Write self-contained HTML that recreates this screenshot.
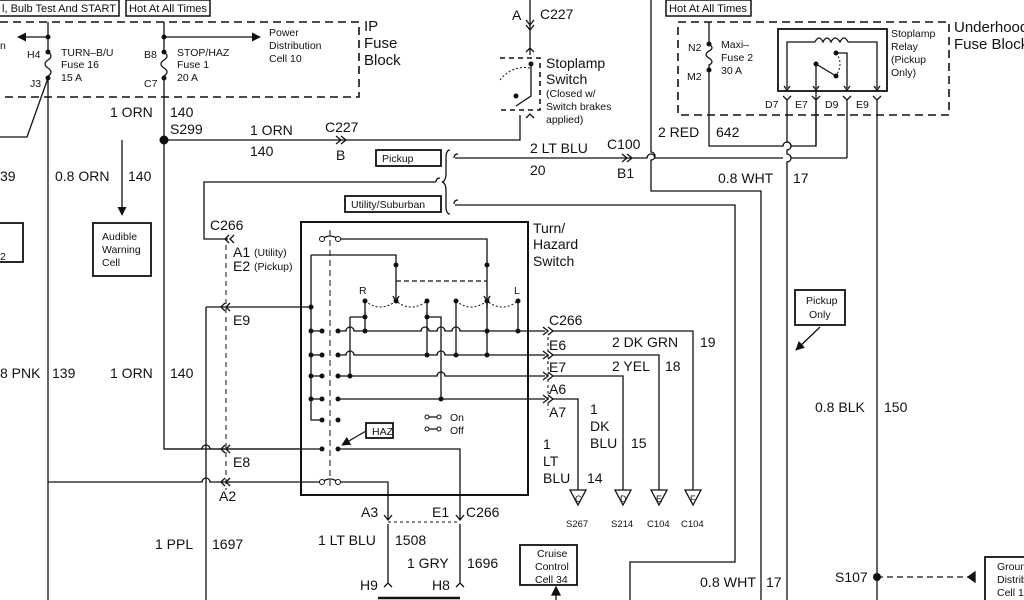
<!DOCTYPE html>
<html><head><meta charset="utf-8"><style>
html,body{margin:0;padding:0;background:#fff;width:1024px;height:600px;overflow:hidden}
svg{display:block}
text{font-family:"Liberation Sans",sans-serif;fill:#111}
.l{font-size:14px}.s{font-size:10.5px}.m{font-size:11px}
</style></head><body>
<svg width="1024" height="600" viewBox="0 0 1024 600" xmlns="http://www.w3.org/2000/svg">
<defs>
<marker id="ah" viewBox="0 0 10 10" refX="9" refY="5" markerWidth="7" markerHeight="7" orient="auto"><path d="M0,0L10,5L0,10z" fill="#111"/></marker>
</defs>
<g fill="none" stroke="#111" stroke-width="1.3">
<rect x="-2" y="0" width="121" height="16" stroke-width="1.5"/>
<rect x="126" y="0" width="84" height="16" stroke-width="1.5"/>
<rect x="666" y="0" width="85" height="16" stroke-width="1.5"/>
<path d="M0,22H359V97H0" stroke-dasharray="8,5" stroke-width="1.6"/>
<path d="M48,22V52M48,80V600"/>
<path d="M48,52q6,4 0,8q-6,4 0,8q6,4 0,8"/>
<path d="M48,37H18" marker-end="url(#ah)"/>
<path d="M48,78L27,137H0"/>
<path d="M164,22V52M164,80V449H301"/>
<path d="M164,52q6,4 0,8q-6,4 0,8q6,4 0,8"/>
<path d="M164,37H260" marker-end="url(#ah)"/>
<path d="M164,140H520V115"/>
<path d="M336,136l5,4l-5,4M341,136l5,4l-5,4"/>
<path d="M122,140V215" marker-end="url(#ah)"/>
<rect x="93" y="223" width="58" height="53" stroke-width="1.8"/>
<rect x="-5" y="223" width="28" height="39" stroke-width="1.8"/>
<path d="M530,0V55"/>
<path d="M526,20l4,5l4,-5M526,25l4,5l4,-5"/>
<path d="M526,52l4,-4l4,4M526,118l4,-4l4,4"/>
<path d="M500,58H540V110H500" stroke-dasharray="5,4" stroke-width="1.6"/>
<path d="M531,64V96L516,106" />
<path d="M500,80q12,-15 30,-12" stroke-dasharray="2,2" stroke-width="1"/>
<path d="M651,0V152a4,4 0 0 1 0,8V191H761V600"/>
<path d="M678,22H949V115H678Z" stroke-dasharray="8,5" stroke-width="1.6"/>
<path d="M709,22V44M709,72V146H783a4,4 0 0 1 8,0H816V91"/>
<path d="M709,44q6,4 0,7q-6,4 0,7q6,4 0,7q-0,3 0,7"/>
<rect x="778" y="29" width="109" height="62" stroke-width="1.8"/>
<path d="M787,88V42H815M848,42H877V88"/>
<path d="M815,42q4,-8 8,0q4,-8 8,0q4,-8 9,0q4,-8 8,0"/>
<path d="M816,64V88M816,64L836,76M836,53H847V88"/>
<path d="M836,53q8,10 0,23" stroke-dasharray="2,2" stroke-width="1"/>
<path d="M784,86l3,4l3,-4M813,86l3,4l3,-4M844,86l3,4l3,-4M874,86l3,4l3,-4"/>
<path d="M783,96l4,4l4,-4M812,96l4,4l4,-4M843,96l4,4l4,-4M873,96l4,4l4,-4"/>
<path d="M787,100V142a4,4 0 0 1 0,8V154a4,4 0 0 1 0,8V600"/>
<path d="M816,100V146M847,100V158"/>
<path d="M877,100V600"/>
<path d="M455,158H647a4,4 0 0 1 8,0H783M791,158H847"/>
<path d="M622,154l5,4l-5,4M627,154l5,4l-5,4"/>
<rect x="376" y="150" width="65" height="16" stroke-width="1.8"/>
<rect x="345" y="196" width="96" height="16" stroke-width="1.8"/>
<path d="M450,150q-4,0 -4,8v15q0,8 -4,9q4,1 4,9v15q0,8 4,8"/>
<path d="M458,154q-4,0 -4,4M458,200q-4,0 -4,4M440,178q-4,0 -4,4"/>
<path d="M436,182H204V239H228"/>
<path d="M455,205H735V562H630V600"/>
<rect x="795" y="290" width="50" height="35" stroke-width="1.8"/>
<path d="M820,327L796,350" marker-end="url(#ah)"/>
<path d="M877,577H970" stroke-dasharray="6,4"/>
<path d="M975,572L968,577L975,582z" fill="#111"/>
<rect x="985" y="557" width="45" height="50" stroke-width="1.8"/>
<rect x="301" y="222" width="227" height="273" stroke-width="2"/>
<path d="M330,230V490" stroke-dasharray="6,4" stroke-width="1"/>
<path d="M338,239H487V308M311,255H396V300" />
<path d="M396,281H487" stroke-dasharray="5,3"/>
<path d="M311,255V420H322"/>
<path d="M365,301q15,12 31,0q15,12 31,0M456,301q15,12 31,0q15,12 31,0" stroke-dasharray="2,2" stroke-width="1"/>
<path d="M393,296l3,5l3,-5M484,296l3,5l3,-5" />
<path d="M206,307H311"/>
<path d="M311,331H322M338,331H346a4,4 0 0 1 8,0H421a4,4 0 0 1 8,0H437a4,4 0 0 1 8,0H452a4,4 0 0 1 8,0H545"/>
<path d="M311,355H322M338,355H346a4,4 0 0 1 8,0H437a4,4 0 0 1 8,0H545"/>
<path d="M311,376H322M338,376H437a4,4 0 0 1 8,0H545"/>
<path d="M311,399H322M338,399H545"/>
<path d="M350,317V376M350,317H365M365,301V331M427,301V355M427,317H441V399M456,301V355M487,300V355M518,301V331"/>
<path d="M543,327l5,4l-5,4M548,327l5,4l-5,4M543,351l5,4l-5,4M548,351l5,4l-5,4M543,372l5,4l-5,4M548,372l5,4l-5,4M543,395l5,4l-5,4M548,395l5,4l-5,4"/>
<path d="M548,337V410" stroke-dasharray="3,3" stroke-width="1"/>
<path d="M553,331H693V490M553,355H659V490M553,376H623V490M553,399H578V490"/>
<path d="M570,490h16l-8,15zM615,490h16l-8,15zM651,490h16l-8,15zM685,490h16l-8,15z"/>
<path d="M338,449H460V520M322,449H210a4,4 0 0 0 -8,0H164"/>
<path d="M48,482H202a4,4 0 0 1 8,0H322M338,482H388V520"/>
<path d="M322,482q8,-6 16,0"/>
<path d="M322,239q8,-6 16,0"/>
<path d="M226,245V490" stroke-dasharray="5,4" stroke-width="1"/>
<path d="M206,307V600"/>
<path d="M230,303l-4,4l4,4M225,303l-4,4l4,4M230,445l-4,4l4,4M225,445l-4,4l4,4M230,478l-4,4l4,4M225,478l-4,4l4,4M234,235l-4,4l4,4M229,235l-4,4l4,4"/>
<rect x="366" y="423" width="27" height="15" stroke-width="1.8"/>
<path d="M366,431L342,445" marker-end="url(#ah)"/>
<path d="M427,417h12M427,429h12"/>
<path d="M384,515l4,5l4,-5M456,515l4,5l4,-5"/>
<path d="M388,522H460" stroke-dasharray="3,3" stroke-width="1"/>
<path d="M388,524V583M460,524V583M384,587l4,-4l4,4M456,587l4,-4l4,4"/>
<path d="M378,598H460" stroke-width="2.5"/>
<rect x="520" y="545" width="57" height="40" stroke-width="1.8"/>
<path d="M556,600V592"/><path d="M552,595L556,587L560,595z" fill="#111"/>
</g>
<g fill="#111">
<circle cx="48" cy="37" r="2.5"/><circle cx="48" cy="52" r="2.5"/><circle cx="48" cy="78" r="2.5"/>
<circle cx="164" cy="37" r="2.5"/><circle cx="164" cy="52" r="2.5"/><circle cx="164" cy="78" r="2.5"/>
<circle cx="164" cy="140" r="4.5"/>
<circle cx="709" cy="44" r="2.5"/><circle cx="709" cy="70" r="2.5"/>
<circle cx="816" cy="64" r="2.5"/><circle cx="836" cy="76" r="2.5"/><circle cx="836" cy="53" r="2.5"/>
<circle cx="877" cy="577" r="4"/>
<circle cx="487" cy="265" r="2.5"/><circle cx="396" cy="265" r="2.5"/><circle cx="396" cy="301" r="2.5"/><circle cx="487" cy="301" r="2.5"/>
<circle cx="365" cy="301" r="2.5"/><circle cx="427" cy="301" r="2.5"/><circle cx="456" cy="301" r="2.5"/><circle cx="518" cy="301" r="2.5"/>
<circle cx="311" cy="307" r="2.5"/><circle cx="365" cy="317" r="2.5"/><circle cx="427" cy="317" r="2.5"/>
<circle cx="311" cy="331" r="2.5"/><circle cx="322" cy="331" r="2.5"/><circle cx="338" cy="331" r="2.5"/><circle cx="365" cy="331" r="2.5"/><circle cx="487" cy="331" r="2.5"/><circle cx="518" cy="331" r="2.5"/>
<circle cx="311" cy="355" r="2.5"/><circle cx="322" cy="355" r="2.5"/><circle cx="338" cy="355" r="2.5"/><circle cx="427" cy="355" r="2.5"/><circle cx="456" cy="355" r="2.5"/><circle cx="487" cy="355" r="2.5"/>
<circle cx="311" cy="376" r="2.5"/><circle cx="322" cy="376" r="2.5"/><circle cx="338" cy="376" r="2.5"/><circle cx="350" cy="376" r="2.5"/>
<circle cx="311" cy="399" r="2.5"/><circle cx="322" cy="399" r="2.5"/><circle cx="338" cy="399" r="2.5"/><circle cx="441" cy="399" r="2.5"/>
<circle cx="322" cy="420" r="2.5"/><circle cx="338" cy="420" r="2.5"/>
<circle cx="322" cy="449" r="2.5"/><circle cx="338" cy="449" r="2.5"/>
<circle cx="531" cy="64" r="2.5"/><circle cx="516" cy="96" r="2.5"/>
</g>
<g fill="#fff" stroke="#111" stroke-width="1">
<circle cx="322" cy="239" r="2.5"/><circle cx="338" cy="239" r="2.5"/>
<circle cx="322" cy="482" r="2.5"/><circle cx="338" cy="482" r="2.5"/>
<circle cx="427" cy="417" r="2"/><circle cx="439" cy="417" r="2"/><circle cx="427" cy="429" r="2"/><circle cx="439" cy="429" r="2"/>
</g>
<text x="2" y="12" class="m" textLength="114" lengthAdjust="spacingAndGlyphs">l, Bulb Test And START</text>
<text x="129" y="12" class="m" textLength="78" lengthAdjust="spacingAndGlyphs">Hot At All Times</text>
<text x="669" y="12" class="m" textLength="78" lengthAdjust="spacingAndGlyphs">Hot At All Times</text>
<text x="0" y="49" class="s">n</text>
<text x="27" y="58" class="s">H4</text><text x="30" y="87" class="s">J3</text>
<text x="61" y="56" class="s">TURN–B/U</text><text x="61" y="68" class="s">Fuse 16</text><text x="61" y="81" class="s">15 A</text>
<text x="144" y="58" class="s">B8</text><text x="144" y="87" class="s">C7</text>
<text x="177" y="56" class="s">STOP/HAZ</text><text x="177" y="68" class="s">Fuse 1</text><text x="177" y="81" class="s">20 A</text>
<text x="269" y="36" class="s">Power</text><text x="269" y="49" class="s">Distribution</text><text x="269" y="62" class="s">Cell 10</text>
<text x="364" y="31" style="font-size:15px">IP</text><text x="364" y="48" style="font-size:15px">Fuse</text><text x="364" y="65" style="font-size:15px">Block</text>
<text x="110" y="117" class="l">1 ORN</text><text x="170" y="117" class="l">140</text><text x="170" y="134" class="l">S299</text>
<text x="250" y="135" class="l">1 ORN</text><text x="250" y="156" class="l">140</text><text x="325" y="132" class="l">C227</text><text x="336" y="160" class="l">B</text>
<text x="512" y="20" class="l">A</text><text x="540" y="19" class="l">C227</text>
<text x="546" y="68" class="l">Stoplamp</text><text x="546" y="84" class="l">Switch</text>
<text x="546" y="97" class="s">(Closed w/</text><text x="546" y="110" class="s">Switch brakes</text><text x="546" y="123" class="s">applied)</text>
<text x="721" y="48" class="s">Maxi–</text><text x="721" y="61" class="s">Fuse 2</text><text x="721" y="74" class="s">30 A</text>
<text x="688" y="51" class="s">N2</text><text x="687" y="80" class="s">M2</text>
<text x="891" y="37" class="s">Stoplamp</text><text x="891" y="50" class="s">Relay</text><text x="891" y="63" class="s">(Pickup</text><text x="891" y="76" class="s">Only)</text>
<text x="954" y="32" style="font-size:15px">Underhood</text><text x="954" y="49" style="font-size:15px">Fuse Block</text>
<text x="765" y="108" class="s">D7</text><text x="795" y="108" class="s">E7</text><text x="825" y="108" class="s">D9</text><text x="856" y="108" class="s">E9</text>
<text x="658" y="137" class="l">2 RED</text><text x="716" y="137" class="l">642</text>
<text x="530" y="153" class="l">2 LT BLU</text><text x="607" y="149" class="l">C100</text><text x="530" y="175" class="l">20</text><text x="617" y="178" class="l">B1</text>
<text x="718" y="183" class="l">0.8 WHT</text><text x="793" y="183" class="l">17</text>
<text x="382" y="162" class="s">Pickup</text><text x="351" y="208" class="s">Utility/Suburban</text>
<text x="0" y="181" class="l">39</text><text x="55" y="181" class="l">0.8 ORN</text><text x="128" y="181" class="l">140</text>
<text x="102" y="240" class="s">Audible</text><text x="102" y="253" class="s">Warning</text><text x="102" y="266" class="s">Cell</text>
<text x="0" y="260" class="s">2</text>
<text x="210" y="230" class="l">C266</text>
<text x="233" y="257" class="l">A1</text><text x="254" y="256" class="s">(Utility)</text>
<text x="233" y="271" class="l">E2</text><text x="254" y="270" class="s">(Pickup)</text>
<text x="533" y="233" class="l">Turn/</text><text x="533" y="249" class="l">Hazard</text><text x="533" y="266" class="l">Switch</text>
<text x="359" y="294" class="s">R</text><text x="514" y="294" class="s">L</text>
<text x="233" y="325" class="l">E9</text>
<text x="549" y="325" class="l">C266</text><text x="549" y="350" class="l">E6</text><text x="549" y="372" class="l">E7</text><text x="549" y="394" class="l">A6</text><text x="549" y="417" class="l">A7</text>
<text x="612" y="347" class="l">2 DK GRN</text><text x="700" y="347" class="l">19</text>
<text x="612" y="371" class="l">2 YEL</text><text x="665" y="371" class="l">18</text>
<text x="590" y="414" class="l">1</text><text x="590" y="431" class="l">DK</text><text x="590" y="448" class="l">BLU</text><text x="631" y="448" class="l">15</text>
<text x="543" y="449" class="l">1</text><text x="543" y="466" class="l">LT</text><text x="543" y="483" class="l">BLU</text><text x="587" y="483" class="l">14</text>
<text x="575" y="502" style="font-size:9px">C</text><text x="620" y="502" style="font-size:9px">D</text><text x="656" y="502" style="font-size:9px">E</text><text x="690" y="502" style="font-size:9px">F</text>
<text x="566" y="527" style="font-size:9.5px">S267</text><text x="611" y="527" style="font-size:9.5px">S214</text><text x="647" y="527" style="font-size:9.5px">C104</text><text x="681" y="527" style="font-size:9.5px">C104</text>
<text x="0" y="378" class="l">8 PNK</text><text x="52" y="378" class="l">139</text>
<text x="110" y="378" class="l">1 ORN</text><text x="170" y="378" class="l">140</text>
<text x="372" y="435" class="s">HAZ</text>
<text x="450" y="421" class="s">On</text><text x="450" y="434" class="s">Off</text>
<text x="233" y="467" class="l">E8</text><text x="219" y="501" class="l">A2</text>
<text x="806" y="304" class="s">Pickup</text><text x="809" y="318" class="s">Only</text>
<text x="815" y="412" class="l">0.8 BLK</text><text x="884" y="412" class="l">150</text>
<text x="361" y="517" class="l">A3</text><text x="432" y="517" class="l">E1</text><text x="466" y="517" class="l">C266</text>
<text x="155" y="549" class="l">1 PPL</text><text x="212" y="549" class="l">1697</text>
<text x="318" y="545" class="l">1 LT BLU</text><text x="395" y="545" class="l">1508</text>
<text x="407" y="568" class="l">1 GRY</text><text x="467" y="568" class="l">1696</text>
<text x="360" y="590" class="l">H9</text><text x="432" y="590" class="l">H8</text>
<text x="537" y="557" class="s">Cruise</text><text x="535" y="570" class="s">Control</text><text x="535" y="583" class="s">Cell 34</text>
<text x="700" y="587" class="l" textLength="56" lengthAdjust="spacingAndGlyphs">0.8 WHT</text><text x="766" y="587" class="l">17</text>
<text x="835" y="582" class="l">S107</text>
<text x="997" y="570" class="s">Ground</text><text x="997" y="583" class="s">Distrib</text><text x="997" y="596" class="s">Cell 1</text>
</svg>
</body></html>
